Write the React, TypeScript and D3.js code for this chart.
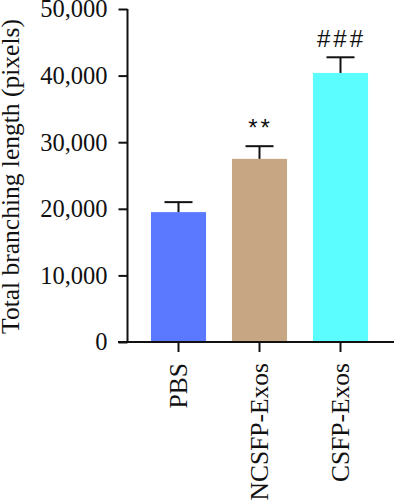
import { useEffect, useRef } from 'react';
import * as d3 from 'd3';

const categories = ['PBS', 'NCSFP-Exos', 'CSFP-Exos'];
const means = [19500, 27500, 40400];
const errors = [1500, 1900, 2350];
const marks = ['', '**', '###'];
const colors = ['#5b79ff', '#c6a683', '#5cfdff'];
const yTicks = [0, 10000, 20000, 30000, 40000, 50000];

const App = () => {
  const svgRef = useRef<SVGSVGElement>(null);

  useEffect(() => {
    const svg = d3.select(svgRef.current);
    svg.selectAll('*').remove();

    const width = 394;
    const height = 500;
    const serif = '"Liberation Serif", "Times New Roman", serif';

    const x = d3.scaleBand<string>()
      .domain(categories)
      .range([138, 381])
      .paddingInner(0.32)
      .paddingOuter(0.16);

    const y = d3.scaleLinear().domain([0, 50000]).range([342, 9]);

    svg.attr('width', width).attr('height', height);

    // bars
    svg.append('g')
      .selectAll('rect')
      .data(categories)
      .enter()
      .append('rect')
      .attr('x', d => x(d)!)
      .attr('y', (d, i) => y(means[i]))
      .attr('width', x.bandwidth())
      .attr('height', (d, i) => y(0) - y(means[i]))
      .attr('fill', (d, i) => colors[i]);

    // error bars (upper only)
    const eb = svg.append('g').attr('stroke', '#111').attr('stroke-width', 2);
    categories.forEach((c, i) => {
      const cx = x(c)! + x.bandwidth() / 2;
      eb.append('line')
        .attr('x1', cx).attr('x2', cx)
        .attr('y1', y(means[i])).attr('y2', y(means[i] + errors[i]));
      eb.append('line')
        .attr('x1', cx - 14).attr('x2', cx + 14)
        .attr('y1', y(means[i] + errors[i])).attr('y2', y(means[i] + errors[i]));
    });

    // significance marks
    svg.append('g')
      .selectAll('text')
      .data(categories)
      .enter()
      .append('text')
      .attr('x', d => x(d)! + x.bandwidth() / 2 + 1)
      .attr('y', (d, i) => y(means[i] + errors[i]) - 10)
      .attr('text-anchor', 'middle')
      .attr('font-family', '"Liberation Sans", Arial, sans-serif')
      .attr('font-size', 24)
      .attr('letter-spacing', 3)
      .attr('fill', '#111')
      .text((d, i) => marks[i]);

    // y axis
    const yAxis = svg.append('g')
      .attr('transform', 'translate(127.5,0)')
      .call(d3.axisLeft(y).tickValues(yTicks).tickSize(9).tickPadding(11)
        .tickFormat(d => d3.format(',')(d as number)));
    yAxis.select('.domain').attr('d', `M0,${y(50000)}V${y(0)}`);
    yAxis.selectAll('path, line').attr('stroke', '#111').attr('stroke-width', 2);
    yAxis.selectAll('text')
      .attr('font-family', serif)
      .attr('font-size', 24.5)
      .attr('fill', '#111');

    // x axis
    const xAxis = svg.append('g')
      .attr('transform', `translate(0,${y(0)})`)
      .call(d3.axisBottom(x).tickSize(10).tickPadding(14));
    xAxis.select('.domain').attr('d', `M118,0H${width}`);
    xAxis.selectAll('path, line').attr('stroke', '#111').attr('stroke-width', 2);
    xAxis.selectAll('text')
      .attr('font-family', serif)
      .attr('font-size', 25.5)
      .attr('fill', '#111')
      .attr('transform', 'rotate(-90)')
      .attr('text-anchor', 'end')
      .attr('dy', '0.35em')
      .attr('x', -21)
      .attr('y', 0);

    // y label
    svg.append('text')
      .attr('transform', `translate(19,${(y(0) + y(50000)) / 2 + 1}) rotate(-90)`)
      .attr('text-anchor', 'middle')
      .attr('font-family', serif)
      .attr('font-size', 25.5)
      .attr('fill', '#111')
      .text('Total branching length (pixels)');
  }, []);

  return (
    <div style={{ position: 'absolute', left: 0, top: 0, background: '#fff' }}>
      <svg ref={svgRef} style={{ display: 'block' }}></svg>
    </div>
  );
};

export default App;
